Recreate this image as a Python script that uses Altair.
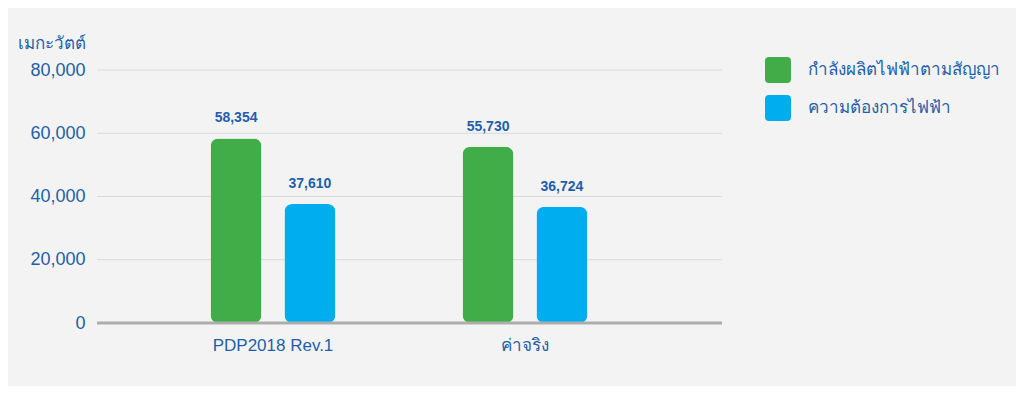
import altair as alt
import pandas as pd

categories = ["PDP2018 Rev.1", "ค่าจริง"]
series = ["กำลังผลิตไฟฟ้าตามสัญญา", "ความต้องการไฟฟ้า"]
contract_capacity = [58354, 55730]
peak_demand = [37610, 36724]
colors = ["#41ad49", "#00aeef"]
y_ticks = [0, 20000, 40000, 60000, 80000]

rows = []
for i, c in enumerate(categories):
    rows.append({"cat": c, "series": series[0], "value": contract_capacity[i]})
    rows.append({"cat": c, "series": series[1], "value": peak_demand[i]})
df = pd.DataFrame(rows)
grid_df = pd.DataFrame({"value": y_ticks[1:]})
base_df = pd.DataFrame({"value": [0]})

txt = "#1f5fa9"
font = "Liberation Sans"

rounded = "M -0.7,-1 L 0.7,-1 Q 1,-1 1,-0.7 L 1,0.7 Q 1,1 0.7,1 L -0.7,1 Q -1,1 -1,0.7 L -1,-0.7 Q -1,-1 -0.7,-1 Z"

xscale = alt.Scale(range=[50, 554], paddingInner=0, paddingOuter=0)
yscale = alt.Scale(domain=[0, 80000])
yaxis = alt.Axis(values=y_ticks, format=",d", title="เมกะวัตต์", titleAngle=0,
                 titleAlign="left", titleBaseline="middle", titleX=-80, titleY=-27,
                 titleFontSize=17, titleFontWeight="normal", titleColor=txt,
                 titleFont=font, labelFontSize=18, labelColor=txt, labelFont=font,
                 labelPadding=12, ticks=False, domain=False, grid=False)

x = alt.X("cat:N", sort=categories, scale=xscale,
          axis=alt.Axis(title=None, labelAngle=0, labelFontSize=17, labelColor=txt,
                        labelFont=font, labelPadding=14, ticks=False,
                        domain=False, grid=False))
xo = alt.XOffset("series:N", sort=series,
                 scale=alt.Scale(paddingInner=0.31, paddingOuter=0.86))
y = alt.Y("value:Q", scale=yscale, axis=yaxis)

grid = alt.Chart(grid_df).mark_rule(color="#d9d9d9", strokeWidth=1).encode(
    y=y, x=alt.value(0), x2=alt.value(625),
)
baseline = alt.Chart(base_df).mark_rule(color="#adadad", strokeWidth=3).encode(
    y=y, x=alt.value(0), x2=alt.value(625),
)

bars = alt.Chart(df).mark_bar(cornerRadius=8).encode(
    x=x, xOffset=xo, y=y,
    color=alt.Color("series:N", sort=series,
                    scale=alt.Scale(domain=series, range=colors),
                    legend=alt.Legend(title=None, orient="none", legendX=668, legendY=-13,
                                      symbolType=rounded, symbolSize=676, symbolStrokeWidth=0,
                                      symbolOpacity=1, labelFontSize=17, labelColor=txt,
                                      labelFont=font, labelOffset=17, rowPadding=12,
                                      labelLimit=400, padding=0)),
)

labels = alt.Chart(df).mark_text(baseline="bottom", dy=-13, fontSize=14,
                                 fontWeight="bold", color=txt, font=font).encode(
    x=x, xOffset=xo, y=y,
    text=alt.Text("value:Q", format=",d"),
)

chart = alt.layer(grid, bars, baseline, labels).properties(
    width=625, height=253,
    autosize=alt.AutoSizeParams(type="none"),
    padding={"left": 89, "top": 62, "right": 294, "bottom": 63},
    background="#f3f3f3",
).configure_view(stroke=None)

chart.save("out.html", embed_options={"renderer": "svg", "actions": False})
